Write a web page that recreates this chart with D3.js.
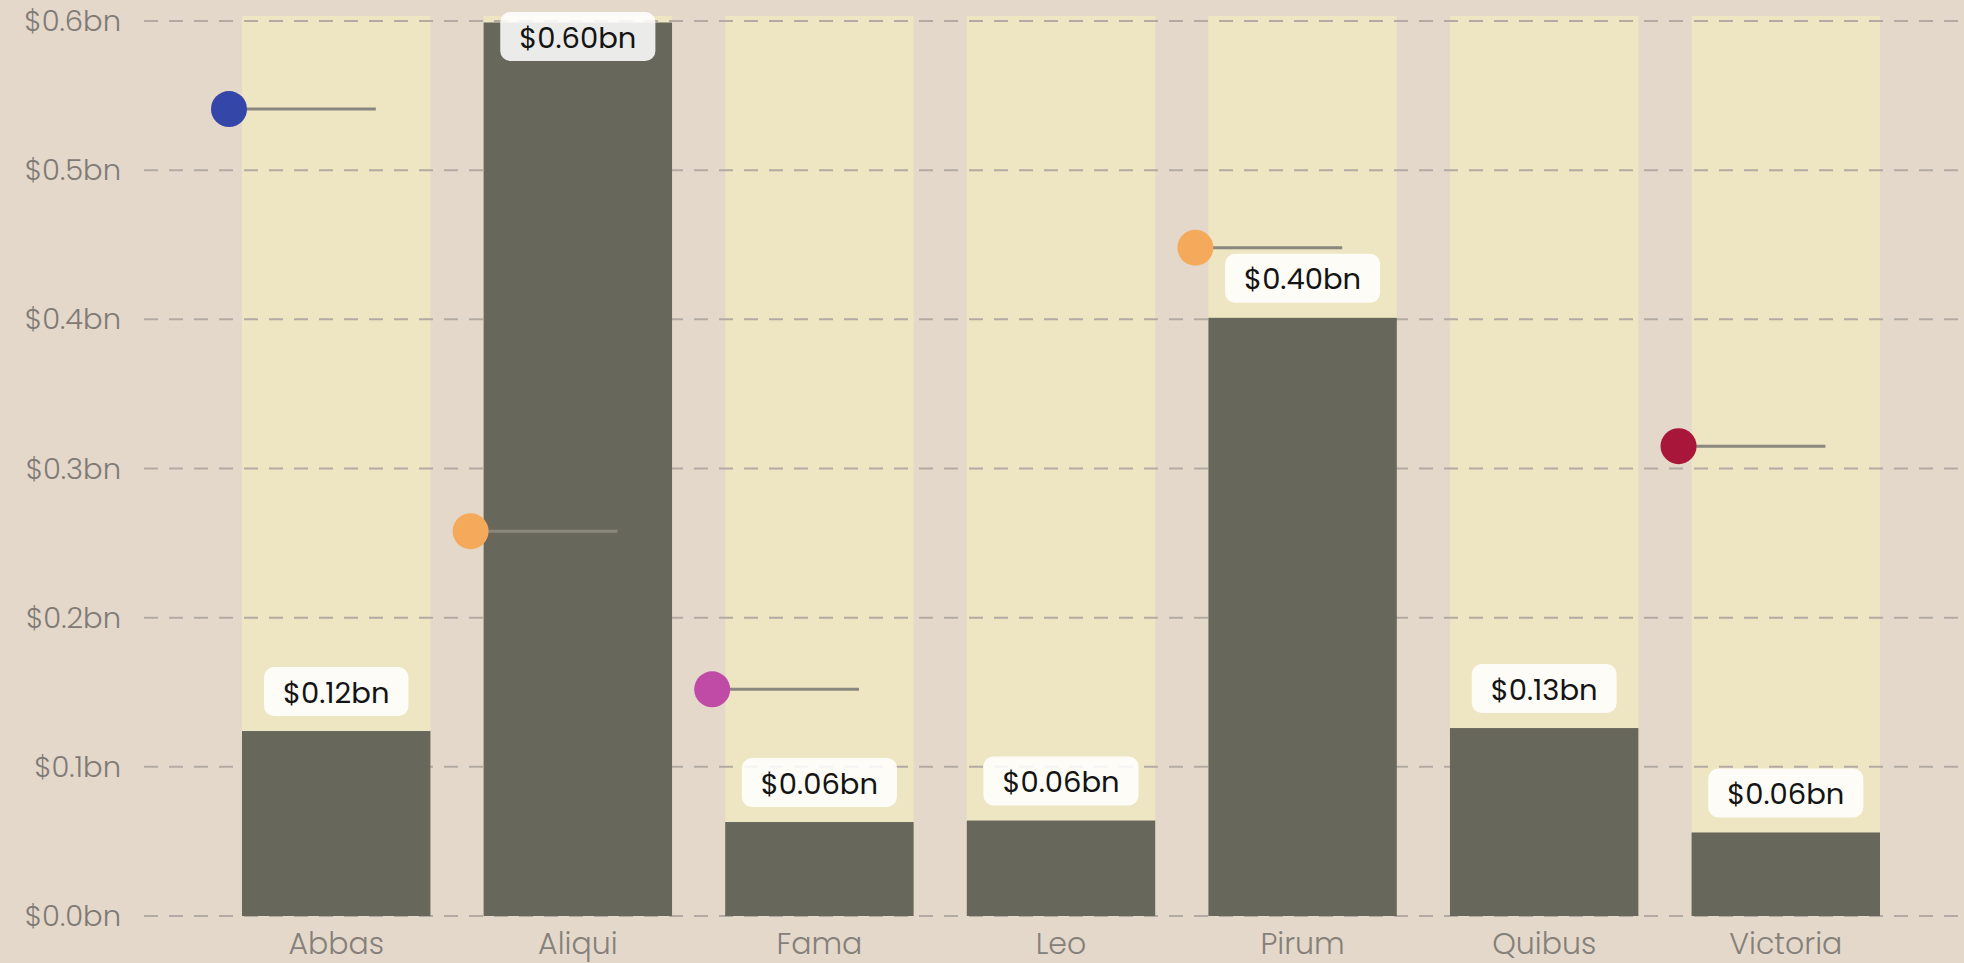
<!DOCTYPE html>
<html>
<head>
<meta charset="utf-8">
<script src="https://cdn.jsdelivr.net/npm/d3@7"></script>
<style>
  html, body { margin: 0; padding: 0; background: #e4d8ca; }
  svg { display: block; font-family: Poppins, Inter, "Open Sans", sans-serif; }
</style>
</head>
<body>
<svg class="d3"></svg>
<script>
const width = 1964
const height = 963

// data
const categories = ["Abbas", "Aliqui", "Fama", "Leo", "Pirum", "Quibus", "Victoria"]
const values = [0.124, 0.599, 0.063, 0.064, 0.401, 0.126, 0.056]
const dotCategories = ["Abbas", "Aliqui", "Fama", "Pirum", "Victoria"]
const dotValues = [0.541, 0.258, 0.152, 0.448, 0.315]
const dotColors = ["#3446a8", "#f5aa5b", "#c04ba6", "#f5aa5b", "#a8173a"]
const yTicks = [0, 0.1, 0.2, 0.3, 0.4, 0.5, 0.6]

const bars = categories.map((c, i) => ({ cat: c, value: values[i] }))
const dots = dotCategories.map((c, i) => ({ cat: c, value: dotValues[i], color: dotColors[i] }))

const svg = d3.select("svg.d3")
    .attr("width", width)
    .attr("height", height)
    .attr("viewBox", [0, 0, width, height])

const x = d3.scaleBand()
    .domain(categories)
    .range([242, 1880])
    .paddingInner(0.22)
    .paddingOuter(0)

const y = d3.scaleLinear()
    .domain([0, 0.6])
    .range([916, 21])

const bw = x.bandwidth()

// light background columns
svg.append("g")
    .selectAll("rect")
    .data(bars)
    .join("rect")
    .attr("x", d => x(d.cat))
    .attr("y", y(0.6) - 5)
    .attr("width", bw)
    .attr("height", y(0) - y(0.6) + 5)
    .attr("fill", "#eee5c2")

// dashed grid + y labels
const grid = svg.append("g")
grid.selectAll("line")
    .data(yTicks)
    .join("line")
    .attr("x1", 144)
    .attr("x2", width)
    .attr("y1", d => y(d))
    .attr("y2", d => y(d))
    .attr("stroke", "#b3aaa3")
    .attr("stroke-width", 2)
    .attr("stroke-dasharray", "14 11")

grid.selectAll("text")
    .data(yTicks)
    .join("text")
    .attr("x", 121)
    .attr("y", d => y(d))
    .attr("dy", "0.35em")
    .attr("text-anchor", "end")
    .attr("fill", "#7f7a75")
    .attr("font-size", 29)
    .attr("font-weight", 300)
    .text(d => "$" + d3.format(".1f")(d) + "bn")

// value bars
svg.append("g")
    .selectAll("rect")
    .data(bars)
    .join("rect")
    .attr("x", d => x(d.cat))
    .attr("y", d => y(d.value))
    .attr("width", bw)
    .attr("height", d => y(0) - y(d.value))
    .attr("fill", "#67675b")

// x labels
svg.append("g")
    .selectAll("text")
    .data(categories)
    .join("text")
    .attr("x", d => x(d) + bw / 2)
    .attr("y", 943)
    .attr("dy", "0.35em")
    .attr("text-anchor", "middle")
    .attr("fill", "#85807a")
    .attr("font-size", 30)
    .attr("font-weight", 300)
    .text(d => d)

// value labels in white boxes
const fmt = v => "$" + d3.format(".2f")(v) + "bn"
const lab = svg.append("g")
    .selectAll("g")
    .data(bars)
    .join("g")

lab.append("text")
    .attr("text-anchor", "middle")
    .attr("fill", "#141414")
    .attr("font-size", 29)
    .attr("dy", "0.35em")
    .text(d => fmt(d.value))

lab.each(function (d) {
    const g = d3.select(this)
    const t = g.select("text")
    const tw = t.node().getComputedTextLength()
    const boxW = tw + 38
    const boxH = 49
    const top = Math.max(y(d.value) - 15 - boxH, 12)
    const cx = x(d.cat) + bw / 2
    g.insert("rect", "text")
        .attr("x", cx - boxW / 2)
        .attr("y", top)
        .attr("width", boxW)
        .attr("height", boxH)
        .attr("rx", 10)
        .attr("fill", "#fff")
        .attr("fill-opacity", 0.87)
    t.attr("x", cx).attr("y", top + boxH / 2 + 1)
})

// dots with tails
const dg = svg.append("g")
    .selectAll("g")
    .data(dots)
    .join("g")

dg.append("line")
    .attr("x1", d => x(d.cat) - 13)
    .attr("x2", d => x(d.cat) + bw * 0.71)
    .attr("y1", d => y(d.value))
    .attr("y2", d => y(d.value))
    .attr("stroke", "#8a877e")
    .attr("stroke-width", 3)

dg.append("circle")
    .attr("cx", d => x(d.cat) - 13)
    .attr("cy", d => y(d.value))
    .attr("r", 18)
    .attr("fill", d => d.color)
</script>
</body>
</html>
